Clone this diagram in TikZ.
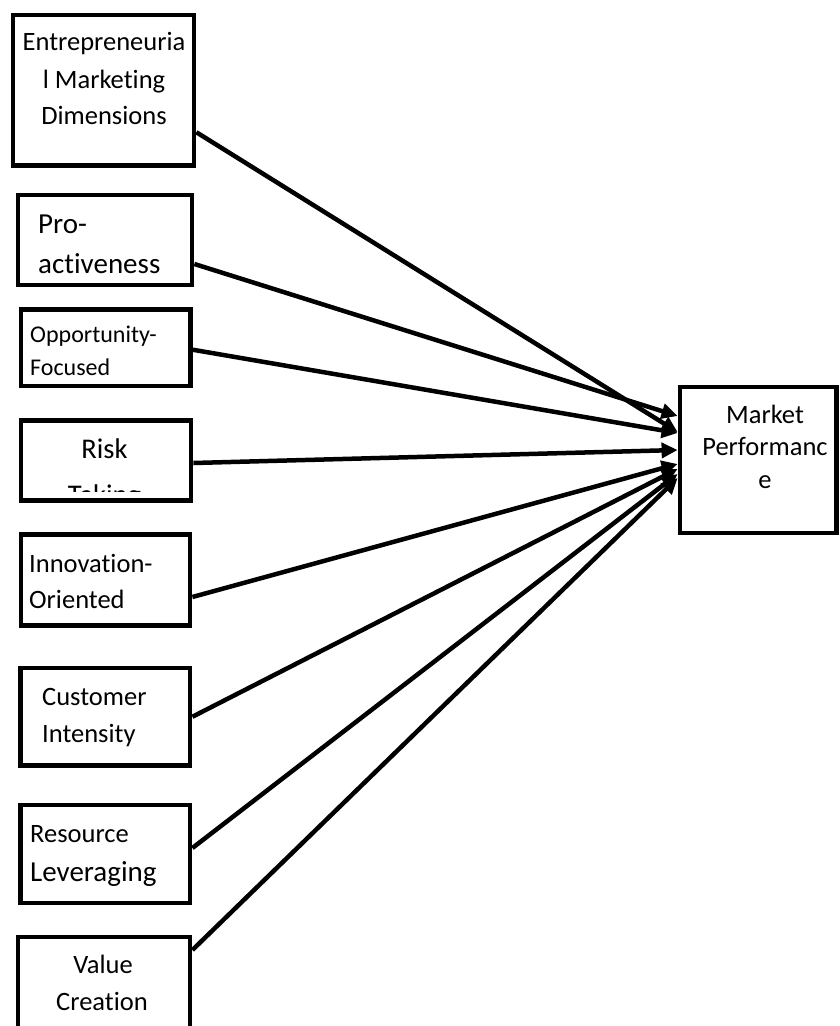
\documentclass[tikz,border=0pt]{standalone}
\usepackage{fontspec}
\setmainfont{Carlito}[Ligatures=CommonOff]
\usetikzlibrary{arrows.meta}
\newcommand{\fsz}[1]{\fontsize{#1}{#1}\selectfont}
\tikzset{
  box/.style={draw, line width=4.8pt, rectangle, inner sep=0pt},
  arr/.style={line width=4.5pt, -{Triangle[length=16pt,width=15pt]}},
  txt/.style={inner sep=0pt, anchor=base},
  txtl/.style={inner sep=0pt, anchor=base west},
}
\begin{document}
\begin{tikzpicture}[x=1pt, y=-1pt]
  \useasboundingbox (0,0) rectangle (839,1026);
  \node[box, minimum width=181, minimum height=150.5] (emd) at (103.5,90.25) {};
  \node[box, minimum width=174, minimum height=90] (pro) at (105,240) {};
  \node[box, minimum width=169.5, minimum height=76.5] (opp) at (105.75,347.75) {};
  \node[box, minimum width=170, minimum height=80] (risk) at (106,460.5) {};
  \node[box, minimum width=169, minimum height=91] (inno) at (105.5,580) {};
  \node[box, minimum width=169.5, minimum height=97.5] (cust) at (105.25,716.75) {};
  \node[box, minimum width=169.5, minimum height=98] (res) at (105.25,854) {};
  \node[box, minimum width=172, minimum height=98] (val) at (104,986) {};
  \node[box, minimum width=156.5, minimum height=146] (mp) at (758.25,460) {};

  \node[txt, font=\fsz{26.5}] (emdA) at (104,50) {Entrepreneuria};
  \node[txt, font=\fsz{26.5}] (emdB) at (104,88) {l Marketing};
  \node[txt, font=\fsz{26.5}] (emdC) at (104,124) {Dimensions};
  \node[txtl, font=\fsz{29}] (proA) at (38,233) {Pro-};
  \node[txtl, font=\fsz{29}] (proB) at (38,273) {activeness};
  \node[txtl, font=\fsz{24}] (oppA) at (30,342) {Opportunity-};
  \node[txtl, font=\fsz{24}] (oppB) at (30,375) {Focused};
  \node[txt, font=\fsz{28.5}] (riskA) at (104.5,458) {Risk};
  \begin{scope}
    \clip (21,420) rectangle (191,491);
    \node[txt, font=\fsz{28.5}] (riskB) at (104.5,504) {Taking};
  \end{scope}
  \node[txtl, font=\fsz{26.5}] (innoA) at (29,572) {Innovation-};
  \node[txtl, font=\fsz{26.5}] (innoB) at (29,608) {Oriented};
  \node[txtl, font=\fsz{26.5}] (custA) at (42,705) {Customer};
  \node[txtl, font=\fsz{26.5}] (custB) at (42,742) {Intensity};
  \node[txtl, font=\fsz{26.5}] (resA) at (30,842) {Resource};
  \node[txtl, font=\fsz{29}] (resB) at (30,881) {Leveraging};
  \node[txt, font=\fsz{26.5}] (valA) at (103,973) {Value};
  \node[txt, font=\fsz{26.5}] (valB) at (102,1010) {Creation};
  \node[txt, font=\fsz{26.5}] (mpA) at (765,423) {Market};
  \node[txt, font=\fsz{26.5}] (mpB) at (765,455) {Performanc};
  \node[txt, font=\fsz{26.5}] (mpC) at (765,488) {e};

  \draw[arr] ([yshift=-42pt]emd.east) -- ([yshift=28pt]mp.west);
  \draw[arr] ([yshift=-24pt]pro.east) -- ([yshift=44pt]mp.west);
  \draw[arr] ([yshift=-2pt]opp.east) -- ([yshift=27pt]mp.west);
  \draw[arr] ([yshift=-2.5pt]risk.east) -- ([yshift=10pt]mp.west);
  \draw[arr] ([yshift=-17pt]inno.east) -- ([yshift=-4pt]mp.west);
  \draw[arr] (cust.east) -- ([yshift=-9pt]mp.west);
  \draw[arr] ([yshift=6pt]res.east) -- ([yshift=-14pt]mp.west);
  \draw[arr] ([yshift=36pt]val.east) -- ([yshift=-18pt]mp.west);
\end{tikzpicture}
\end{document}
